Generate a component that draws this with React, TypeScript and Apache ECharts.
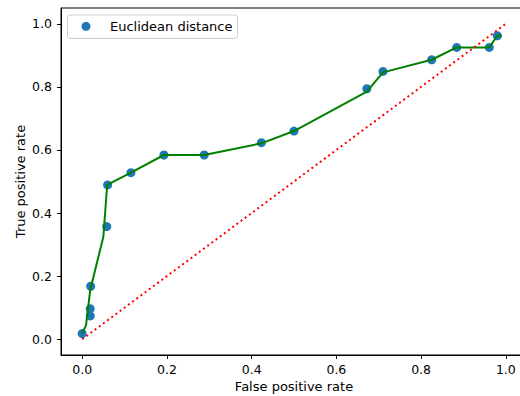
import React, { useEffect, useRef } from "react";
import * as echarts from "echarts";

const tickValues = [0, 0.2, 0.4, 0.6, 0.8, 1.0];

const pointX = [0.0, 0.019, 0.019, 0.02, 0.058, 0.06, 0.115, 0.193, 0.288, 0.423, 0.5, 0.672, 0.71, 0.825, 0.884, 0.961, 0.98];
const pointY = [0.018, 0.074, 0.097, 0.168, 0.357, 0.489, 0.528, 0.584, 0.584, 0.623, 0.66, 0.794, 0.849, 0.886, 0.925, 0.925, 0.962];

const lineX = [0.0, 0.009, 0.019, 0.05, 0.059, 0.115, 0.193, 0.288, 0.423, 0.5, 0.672, 0.71, 0.825, 0.884, 0.961, 0.98, 0.99];
const lineY = [0.019, 0.044, 0.156, 0.325, 0.489, 0.528, 0.584, 0.584, 0.621, 0.66, 0.785, 0.846, 0.886, 0.925, 0.925, 0.962, 0.962];

const diagX = [0, 1];
const diagY = [0, 1];

const legendLabel = "Euclidean distance";
const xTitle = "False positive rate";
const yTitle = "True positive rate";

const FONT = "DejaVu Sans";

export default function App() {
  const ref = useRef<HTMLDivElement>(null);
  useEffect(() => {
    if (!ref.current) return;
    const chart = echarts.init(ref.current, undefined, { renderer: "svg" });
    const axisCommon = {
      type: "value",
      min: -0.05,
      max: 1.05,
      splitLine: { show: false },
      axisLine: { show: true, onZero: false, lineStyle: { color: "#000", width: 1 } },
      axisTick: {
        show: true,
        inside: false,
        length: 4,
        lineStyle: { color: "#000", width: 1 },
        customValues: tickValues,
      },
      nameLocation: "middle",
      nameMoveOverlap: false,
      nameTextStyle: { fontFamily: FONT, fontSize: 13, color: "#000" },
    };
    chart.setOption({
      animation: false,
      grid: {
        left: 61,
        top: 8,
        right: -7,
        bottom: 41,
        outerBoundsMode: "none",
        containLabel: false,
        show: true,
        borderColor: "#000",
        borderWidth: 1,
        backgroundColor: "transparent",
      },
      xAxis: {
        ...axisCommon,
        name: xTitle,
        nameGap: 25,
        axisLabel: {
          customValues: tickValues,
          margin: 8,
          fontFamily: FONT,
          fontSize: 12.5,
          color: "#000",
          formatter: (v: number) => v.toFixed(1),
        },
      },
      yAxis: {
        ...axisCommon,
        name: yTitle,
        nameGap: 34,
        axisLabel: {
          customValues: tickValues,
          margin: 9,
          fontFamily: FONT,
          fontSize: 12.5,
          color: "#000",
          formatter: (v: number) => v.toFixed(1),
        },
      },
      series: [
        {
          name: legendLabel,
          type: "scatter",
          symbol: "circle",
          symbolSize: 9,
          itemStyle: { color: "#1f77b4", opacity: 1 },
          data: pointX.map((x, i) => [x, pointY[i]]),
          z: 2,
        },
        {
          type: "line",
          symbol: "none",
          lineStyle: { color: "#008000", width: 2 },
          data: lineX.map((x, i) => [x, lineY[i]]),
          z: 3,
        },
        {
          type: "line",
          symbol: "none",
          lineStyle: { color: "#ff0000", width: 2, type: [2, 3.2] },
          data: diagX.map((x, i) => [x, diagY[i]]),
          z: 4,
        },
      ],
      graphic: [
        {
          type: "rect",
          shape: { x: 67.5, y: 15, width: 170, height: 23.5, r: 3 },
          style: { fill: "rgba(255,255,255,0.8)", stroke: "#cccccc", lineWidth: 1 },
          z: 10,
        },
        {
          type: "circle",
          shape: { cx: 86, cy: 26.3, r: 4.5 },
          style: { fill: "#1f77b4" },
          z: 11,
        },
        {
          type: "text",
          x: 110,
          y: 26.5,
          style: {
            text: legendLabel,
            fontFamily: FONT,
            fontSize: 13,
            fill: "#000",
            verticalAlign: "middle",
            align: "left",
          },
          z: 11,
        },
      ],
    });
    return () => chart.dispose();
  }, []);
  return <div ref={ref} style={{ width: 520, height: 396, position: "absolute", left: 0, top: 0 }} />;
}
